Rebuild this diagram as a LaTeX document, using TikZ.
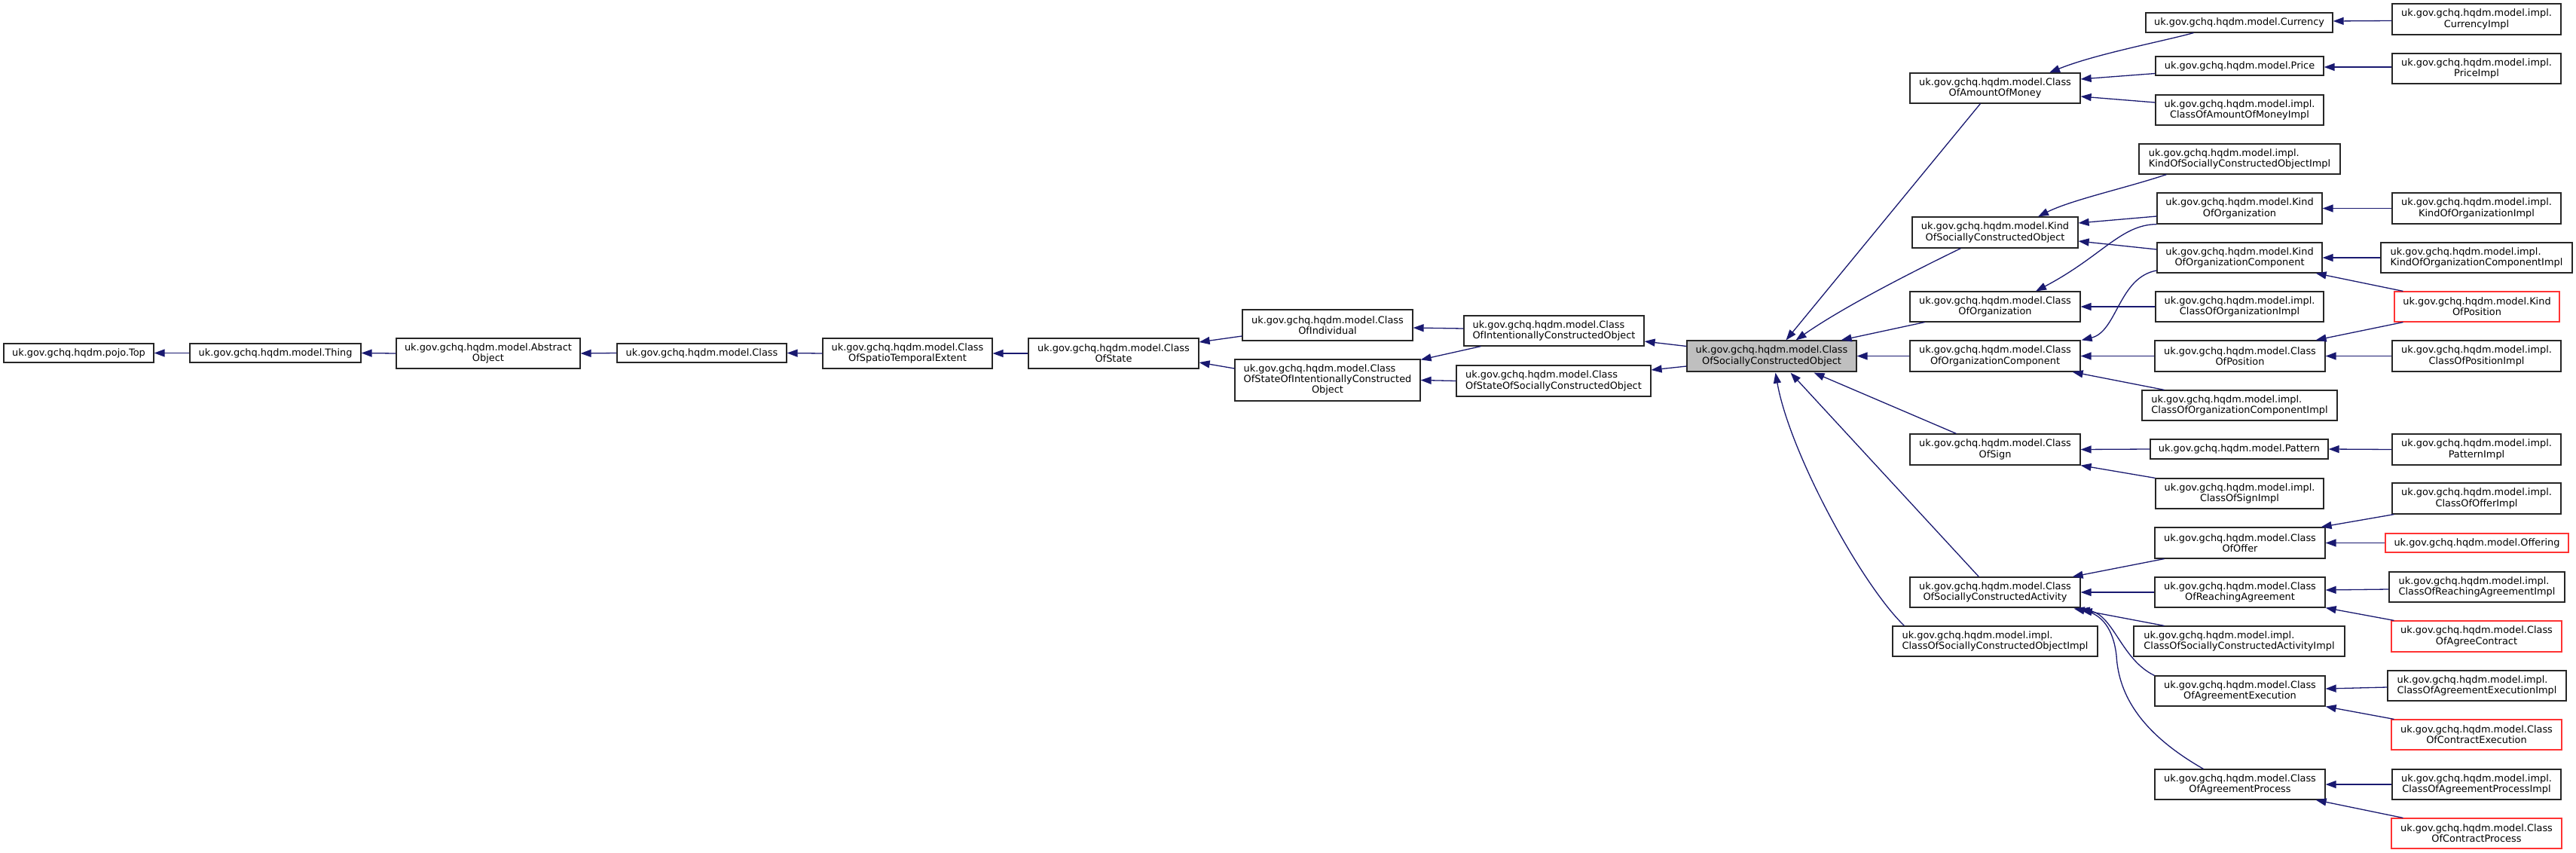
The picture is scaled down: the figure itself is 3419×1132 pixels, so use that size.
\documentclass[tikz,border=0pt]{standalone}
\usepackage{fontspec}
\newfontfamily\dvs{DejaVu Sans}
\usetikzlibrary{arrows.meta,calc}
\definecolor{edgeblue}{RGB}{25,25,112}
\definecolor{nodered}{RGB}{255,51,51}
\definecolor{nodegrey}{RGB}{191,191,191}
\begin{document}
\begin{tikzpicture}[x=1pt,y=-1pt,
  box/.style={draw=black!85, line width=1.2pt, fill=white, inner sep=0pt, align=center,
    font=\dvs\fontsize{12.9pt}{14.3pt}\selectfont, text=black},
  boxl/.style={box, align=left},
  redbox/.style={draw=nodered},
  greybox/.style={fill=nodegrey},
  sz/.style 2 args={minimum width=#1pt, minimum height=#2pt},
  edge/.style={draw=edgeblue, line width=1.3pt, -{Triangle[length=14pt,width=10pt]}}]
\useasboundingbox (0,0) rectangle (3419,1132);
% left chain
\node[box,sz={199}{25}] (top) at (104.5,468.5) {uk.gov.gchq.hqdm.pojo.Top};
\node[box,sz={227}{25}] (thing) at (365.5,468.5) {uk.gov.gchq.hqdm.model.Thing};
\node[box,sz={244}{40}] (abs) at (648,469) {uk.gov.gchq.hqdm.model.Abstract\\Object};
\node[box,sz={225}{25}] (cls) at (931.5,468.5) {uk.gov.gchq.hqdm.model.Class};
\node[box,sz={225}{40}] (coste) at (1204.5,469) {uk.gov.gchq.hqdm.model.Class\\OfSpatioTemporalExtent};
\node[box,sz={226}{40}] (costate) at (1478,469) {uk.gov.gchq.hqdm.model.Class\\OfState};
\node[box,sz={226}{41}] (coind) at (1762,431.5) {uk.gov.gchq.hqdm.model.Class\\OfIndividual};
\node[box,sz={246}{55}] (cosico) at (1762,504.5) {\begin{tabular}{@{}l@{}}uk.gov.gchq.hqdm.model.Class\\OfStateOfIntentionallyConstructed\\\multicolumn{1}{@{}c@{}}{Object}\end{tabular}};
\node[boxl,sz={239}{40}] (coico) at (2062.5,439) {uk.gov.gchq.hqdm.model.Class\\OfIntentionallyConstructedObject};
\node[boxl,sz={258}{41}] (cossco) at (2062,505.5) {uk.gov.gchq.hqdm.model.Class\\OfStateOfSociallyConstructedObject};
\node[box,greybox,sz={225}{41}] (cosco) at (2351.5,472.5) {uk.gov.gchq.hqdm.model.Class\\OfSociallyConstructedObject};
% column 1
\node[box,sz={226}{40}] (coaom) at (2648,117) {uk.gov.gchq.hqdm.model.Class\\OfAmountOfMoney};
\node[box,sz={220}{41}] (kosco) at (2648,308.5) {uk.gov.gchq.hqdm.model.Kind\\OfSociallyConstructedObject};
\node[box,sz={226}{40}] (coorg) at (2648,407) {uk.gov.gchq.hqdm.model.Class\\OfOrganization};
\node[box,sz={226}{41}] (cooc) at (2648,472.5) {uk.gov.gchq.hqdm.model.Class\\OfOrganizationComponent};
\node[box,sz={226}{41}] (cosign) at (2648,596.5) {uk.gov.gchq.hqdm.model.Class\\OfSign};
\node[box,sz={226}{40}] (cosca) at (2648,786) {uk.gov.gchq.hqdm.model.Class\\OfSociallyConstructedActivity};
\node[boxl,sz={272}{40}] (coscoi) at (2648,851) {uk.gov.gchq.hqdm.model.impl.\\ClassOfSociallyConstructedObjectImpl};
% column 2
\node[box,sz={248}{26}] (cur) at (2972,30) {uk.gov.gchq.hqdm.model.Currency};
\node[box,sz={223}{25}] (price) at (2972.5,87.5) {uk.gov.gchq.hqdm.model.Price};
\node[box,sz={223}{40}] (coaomi) at (2972.5,146) {uk.gov.gchq.hqdm.model.impl.\\ClassOfAmountOfMoneyImpl};
\node[boxl,sz={267}{40}] (koscoi) at (2972.5,211) {uk.gov.gchq.hqdm.model.impl.\\KindOfSociallyConstructedObjectImpl};
\node[box,sz={219}{41}] (koo) at (2972.5,276.5) {uk.gov.gchq.hqdm.model.Kind\\OfOrganization};
\node[box,sz={219}{40}] (kooc) at (2972.5,342) {uk.gov.gchq.hqdm.model.Kind\\OfOrganizationComponent};
\node[box,sz={223}{40}] (coorgi) at (2972.5,407) {uk.gov.gchq.hqdm.model.impl.\\ClassOfOrganizationImpl};
\node[box,sz={226}{41}] (copos) at (2973,472.5) {uk.gov.gchq.hqdm.model.Class\\OfPosition};
\node[boxl,sz={259}{40}] (cooci) at (2972.5,538) {uk.gov.gchq.hqdm.model.impl.\\ClassOfOrganizationComponentImpl};
\node[box,sz={236}{26}] (pat) at (2972,596) {uk.gov.gchq.hqdm.model.Pattern};
\node[box,sz={223}{40}] (cosigni) at (2972.5,655) {uk.gov.gchq.hqdm.model.impl.\\ClassOfSignImpl};
\node[box,sz={226}{41}] (cooff) at (2973,720.5) {uk.gov.gchq.hqdm.model.Class\\OfOffer};
\node[box,sz={226}{40}] (cora) at (2973,786) {uk.gov.gchq.hqdm.model.Class\\OfReachingAgreement};
\node[boxl,sz={280}{40}] (coscai) at (2972,851) {uk.gov.gchq.hqdm.model.impl.\\ClassOfSociallyConstructedActivityImpl};
\node[box,sz={226}{40}] (coae) at (2973,917) {uk.gov.gchq.hqdm.model.Class\\OfAgreementExecution};
\node[box,sz={226}{40}] (coap) at (2973,1041) {uk.gov.gchq.hqdm.model.Class\\OfAgreementProcess};
% column 3
\node[box,sz={224}{41}] (curi) at (3287,25.5) {uk.gov.gchq.hqdm.model.impl.\\CurrencyImpl};
\node[box,sz={224}{40}] (pricei) at (3287,91) {uk.gov.gchq.hqdm.model.impl.\\PriceImpl};
\node[box,sz={224}{41}] (kooi) at (3287,276.5) {uk.gov.gchq.hqdm.model.impl.\\KindOfOrganizationImpl};
\node[boxl,sz={254}{40}] (kooci) at (3287,342) {uk.gov.gchq.hqdm.model.impl.\\KindOfOrganizationComponentImpl};
\node[box,redbox,sz={219}{40}] (kop) at (3287.5,407) {uk.gov.gchq.hqdm.model.Kind\\OfPosition};
\node[box,sz={224}{41}] (coposi) at (3287,472.5) {uk.gov.gchq.hqdm.model.impl.\\ClassOfPositionImpl};
\node[box,sz={224}{41}] (pati) at (3287,596.5) {uk.gov.gchq.hqdm.model.impl.\\PatternImpl};
\node[box,sz={224}{41}] (cooffi) at (3287,661.5) {uk.gov.gchq.hqdm.model.impl.\\ClassOfOfferImpl};
\node[box,redbox,sz={243}{25}] (offering) at (3287.5,720.5) {uk.gov.gchq.hqdm.model.Offering};
\node[boxl,sz={233}{40}] (corai) at (3287.5,779) {uk.gov.gchq.hqdm.model.impl.\\ClassOfReachingAgreementImpl};
\node[box,redbox,sz={226}{41}] (coac) at (3287,844.5) {uk.gov.gchq.hqdm.model.Class\\OfAgreeContract};
\node[boxl,sz={237}{40}] (coaei) at (3287.5,910) {uk.gov.gchq.hqdm.model.impl.\\ClassOfAgreementExecutionImpl};
\node[box,redbox,sz={226}{40}] (coce) at (3287,975) {uk.gov.gchq.hqdm.model.Class\\OfContractExecution};
\node[box,sz={224}{40}] (coapi) at (3287,1041) {uk.gov.gchq.hqdm.model.impl.\\ClassOfAgreementProcessImpl};
\node[box,redbox,sz={226}{40}] (cocp) at (3287,1106) {uk.gov.gchq.hqdm.model.Class\\OfContractProcess};
% edges: left chain
\draw[edge] (thing.west) -- (top.east);
\draw[edge] (abs.west) -- (thing.east);
\draw[edge] (cls.west) -- (abs.east);
\draw[edge] (coste.west) -- (cls.east);
\draw[edge] (costate.west) -- (coste.east);
\draw[edge] ($(coind.west)+(0,14.5)$) -- ($(costate.east)+(0,-15)$);
\draw[edge] ($(cosico.west)+(0,-15.5)$) -- ($(costate.east)+(0,12)$);
\draw[edge] ($(coico.west)+(0,-3)$) -- ($(coind.east)+(0,3.5)$);
\draw[edge] ($(coico.south west)+(23,0)$) -- ($(cosico.north east)+(0,1)$);
\draw[edge] (cossco.west) -- (cosico.east);
\draw[edge] ($(cosco.west)+(0,-13)$) -- ($(coico.east)+(0,14)$);
\draw[edge] ($(cosco.west)+(0,13.5)$) -- ($(cossco.east)+(0,-14.5)$);
% edges into the central node
\draw[edge] ($(coaom.south west)+(94,0)$) -- ($(cosco.north)+(19,0)$);
\draw[edge] ($(kosco.south west)+(65,0)$) .. controls (2550,355) and (2450,405) .. ($(cosco.north)+(32,0)$);
\draw[edge] ($(coorg.south west)+(20,0)$) -- ($(cosco.north east)+(-21,0)$);
\draw[edge] (cooc.west) -- (cosco.east);
\draw[edge] ($(cosign.north west)+(62,0)$) -- ($(cosco.south)+(56,1)$);
\draw[edge] ($(cosca.north west)+(92,0)$) -- ($(cosco.south)+(25,1)$);
\draw[edge] ($(coscoi.north west)+(16,0)$) .. controls (2470,775) and (2375,600) .. ($(cosco.south)+(5,1)$);
% amount of money
\draw[edge] ($(cur.south west)+(64,0)$) .. controls (2870,55) and (2780,72) .. ($(coaom.north)+(72,0)$);
\draw[edge] ($(price.west)+(0,10)$) -- ($(coaom.east)+(0,-12)$);
\draw[edge] ($(coaomi.west)+(0,-10)$) -- ($(coaom.east)+(0,11)$);
\draw[edge] ($(curi.west)+(0,2)$) -- ($(cur.east)+(0,-2)$);
\draw[edge] ($(pricei.west)+(0,-2)$) -- ($(price.east)+(0,1.5)$);
% kinds and organisations
\draw[edge] ($(koscoi.south west)+(37,0)$) .. controls (2820,250) and (2750,265) .. ($(kosco.north)+(57,0)$);
\draw[edge] ($(koo.west)+(0,10.5)$) -- ($(kosco.east)+(0,-12.5)$);
\draw[edge] (kooi.west) -- (koo.east);
\draw[edge] (koo.south west) .. controls (2815,298) and (2790,340) .. ($(coorg.north)+(54,0)$);
\draw[edge] ($(kooc.west)+(0,-11)$) -- ($(kosco.east)+(0,11.5)$);
\draw[edge] (kooci.west) -- (kooc.east);
\draw[edge] ($(kooc.west)+(0,17)$) .. controls (2812,368) and (2810,440) .. ($(cooc.north east)+(1,0)$);
\draw[edge] ($(kop.north west)+(12,0)$) -- ($(kooc.south east)+(-9,0)$);
\draw[edge] ($(kop.south west)+(12,0)$) -- ($(copos.north east)+(-13,0)$);
\draw[edge] (coorgi.west) -- (coorg.east);
\draw[edge] (copos.west) -- (cooc.east);
\draw[edge] (coposi.west) -- (copos.east);
\draw[edge] ($(cooci.north west)+(30,0)$) -- ($(cooc.south east)+(-11,0)$);
% sign
\draw[edge] (pat.west) -- (cosign.east);
\draw[edge] (pati.west) -- (pat.east);
\draw[edge] (cosigni.north west) -- (cosign.south east);
% activities
\draw[edge] ($(cooffi.south west)+(3,0)$) -- ($(cooff.north east)+(-6,0)$);
\draw[edge] (offering.west) -- (cooff.east);
\draw[edge] ($(cooff.south west)+(13,0)$) -- ($(cosca.north east)+(-11,0)$);
\draw[edge] (cora.west) -- (cosca.east);
\draw[edge] ($(coscai.north west)+(41,0)$) -- ($(cosca.south east)+(1,3)$);
\draw[edge] (coae.north west) .. controls (2815,875) and (2805,815) .. ($(cosca.south east)+(-2,2)$);
\draw[edge] ($(coap.north west)+(65,0)$) .. controls (2845,975) and (2812,925) .. (2809,870) .. controls (2805,835) and (2790,815) .. ($(cosca.south east)+(-9,1)$);
\draw[edge] ($(corai.west)+(0,3)$) -- ($(cora.east)+(0,-3)$);
\draw[edge] ($(coac.north west)+(4,0)$) -- (cora.south east);
\draw[edge] ($(coaei.west)+(0,2)$) -- ($(coae.east)+(0,-3)$);
\draw[edge] ($(coce.north west)+(4,0)$) -- (coae.south east);
\draw[edge] (coapi.west) -- (coap.east);
\draw[edge] ($(cocp.north west)+(16,0)$) -- ($(coap.south east)+(-13,0)$);
\end{tikzpicture}
\end{document}
